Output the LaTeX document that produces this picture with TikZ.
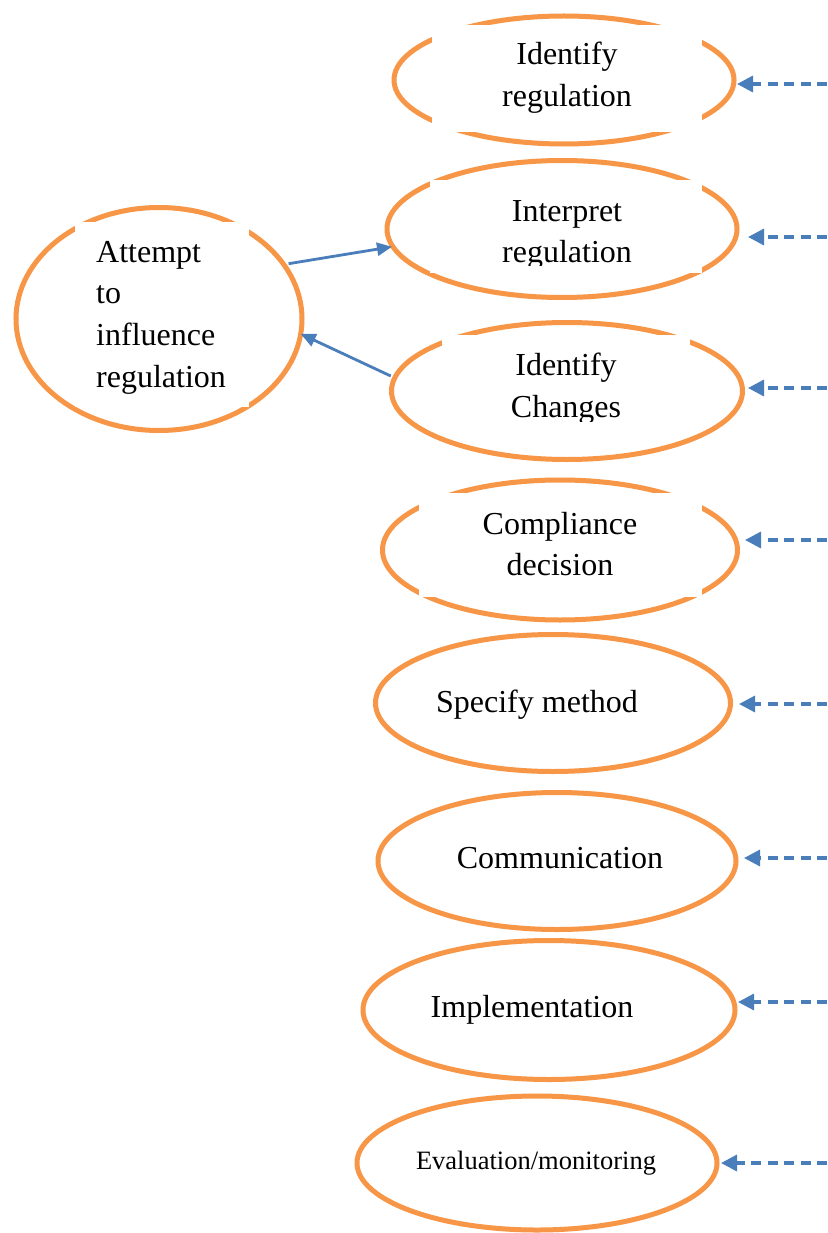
\documentclass[tikz,border=0pt]{standalone}
\usepackage{fontspec}
\setmainfont{Liberation Serif}
\usetikzlibrary{shapes.geometric,arrows.meta,calc}
\definecolor{orng}{HTML}{F79646}
\definecolor{blu}{HTML}{4A7EBB}
\begin{document}
\begin{tikzpicture}[x=1pt,y=-1pt,
  oval/.style={ellipse,draw=orng,line width=5pt,inner sep=0pt,outer sep=0pt},
  gapbox/.style={fill=white,draw=none,inner sep=0pt},
  lbl/.style={font=\fontsize{32}{42}\selectfont,inner sep=0pt,anchor=base},
  smalllbl/.style={font=\fontsize{26.5}{30}\selectfont,inner sep=0pt,anchor=base},
  dasharrow/.style={draw=blu,line width=3.3pt,dash pattern=on 10pt off 6.5pt,-{Triangle[length=16pt,width=16pt]}},
  solidarrow/.style={draw=blu,line width=2.8pt,-{Triangle[length=15pt,width=13pt]}}]
\useasboundingbox (0,0) rectangle (827,1233);
\fill[white] (0,0) rectangle (827,1233);

% ellipses
\node[oval,minimum width=340pt,minimum height=128pt] (e1) at (564,80) {};
\node[oval,minimum width=350pt,minimum height=137pt] (e2) at (562,229) {};
\node[oval,minimum width=351pt,minimum height=137pt] (e3) at (567,391) {};
\node[oval,minimum width=355pt,minimum height=140pt] (e4) at (560,550) {};
\node[oval,minimum width=355pt,minimum height=137pt] (e5) at (553,703) {};
\node[oval,minimum width=358pt,minimum height=137pt] (e6) at (557,861) {};
\node[oval,minimum width=372pt,minimum height=139pt] (e7) at (549,1010) {};
\node[oval,minimum width=360pt,minimum height=134pt] (e8) at (537,1163) {};
\node[oval,minimum width=286pt,minimum height=223pt] (att) at (159,319) {};

% white text-box gaps
\node[gapbox,minimum width=270pt,minimum height=107pt] (g1) at (567,78.5) {};
\node[gapbox,minimum width=272pt,minimum height=93pt] (g2) at (566,226.5) {};
\node[gapbox,minimum width=248pt,minimum height=85pt] (g3) at (566,377.5) {};
\node[gapbox,minimum width=283pt,minimum height=104pt] (g4) at (560.5,545) {};
\node[gapbox,minimum width=174pt,minimum height=185pt] (ga) at (162,314.5) {};

% texts
\node[lbl] (t1a) at (567,65) {Identify};
\node[lbl] (t1b) at (567,107) {regulation};
\node[lbl] (t2a) at (567,222) {Interpret};
\begin{scope}
\clip (430,180) rectangle (702,265);
\node[lbl] (t2b) at (567,262) {regulation};
\end{scope}
\node[lbl] (t3a) at (566,375) {Identify};
\begin{scope}
\clip (442,335) rectangle (690,421);
\node[lbl] (t3b) at (566,417) {Changes};
\end{scope}
\node[lbl] (t4a) at (560,534) {Compliance};
\node[lbl] (t4b) at (560,575) {decision};
\node[lbl] (t5) at (537,712) {Specify method};
\node[lbl] (t6) at (560,868) {Communication};
\node[lbl] (t7) at (532,1017) {Implementation};
\node[smalllbl] (t8) at (536,1169) {Evaluation/monitoring};
\node[lbl,anchor=base west] (ta1) at (96,262) {Attempt};
\node[lbl,anchor=base west] (ta2) at (96,303) {to};
\node[lbl,anchor=base west] (ta3) at (96,345) {influence};
\node[lbl,anchor=base west] (ta4) at (96,387) {regulation};

% dashed arrows from the right edge
\coordinate (r1) at (827,84);
\coordinate (r2) at (827,237);
\coordinate (r3) at (827,388);
\coordinate (r4) at (827,540);
\coordinate (r5) at (827,704);
\coordinate (r6) at (827,858);
\coordinate (r7) at (827,1002);
\coordinate (r8) at (827,1163);
\draw[dasharrow] (r1) -- ($(r1 -| e1.east)+(3,0)$);
\draw[dasharrow] (r2) -- ($(r2 -| e2.east)+(11,0)$);
\draw[dasharrow] (r3) -- ($(r3 -| e3.east)+(5.5,0)$);
\draw[dasharrow] (r4) -- ($(r4 -| e4.east)+(7.5,0)$);
\draw[dasharrow] (r5) -- ($(r5 -| e5.east)+(8.5,0)$);
\draw[dasharrow] (r6) -- ($(r6 -| e6.east)+(8,0)$);
\draw[dasharrow] (r7) -- ($(r7 -| e7.east)+(3,0)$);
\draw[dasharrow] (r8) -- ($(r8 -| e8.east)+(4,0)$);

% solid arrows
\draw[solidarrow] ($(att.23.7)+(4,-2)$) -- ($(e2.186.8)+(-1,0)$);
\draw[solidarrow] ($(e3.175)+(-5,0)$) -- (att.-6.8);
\end{tikzpicture}
\end{document}
